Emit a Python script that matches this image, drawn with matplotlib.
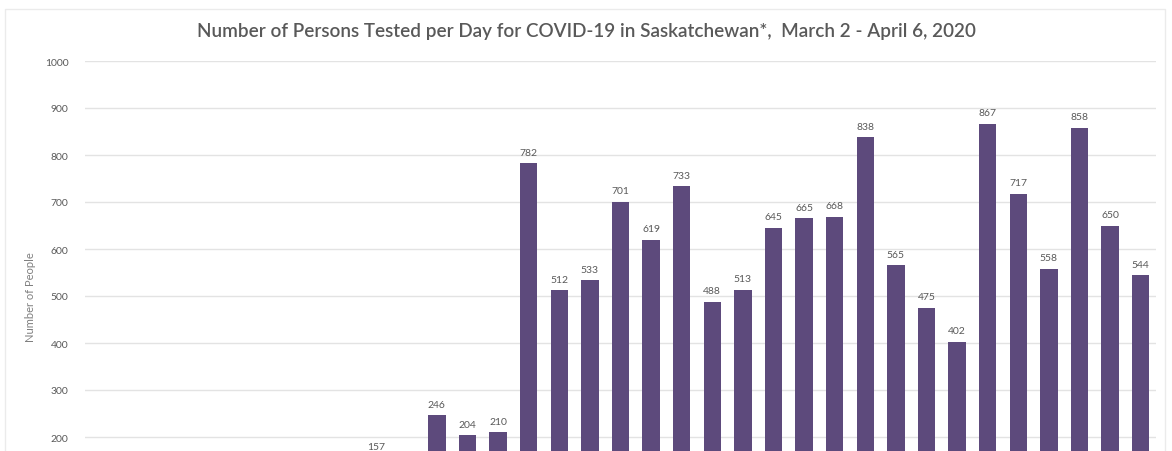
import matplotlib.pyplot as plt
from matplotlib.patches import Rectangle

# daily persons tested, Mar 2 .. Apr 6 (first slots are below the visible crop)
days = list(range(35))
tested = [4, 6, 10, 12, 18, 25, 38, 52, 80, 157, 111,
          246, 204, 210, 782, 512, 533, 701, 619, 733, 488, 513,
          645, 665, 668, 838, 565, 475, 402, 867, 717, 558, 858, 650, 544]
# ticks below 200 fall outside the cropped picture
y_ticks = [200, 300, 400, 500, 600, 700, 800, 900, 1000]

BAR = "#5D4A7C"
GREY = "#7F7F7F"
plt.rcParams["font.family"] = ["Lato", "DejaVu Sans"]

W, H = 1172, 452
fig = plt.figure(figsize=(W / 100, H / 100), dpi=100)
fig.patch.set_facecolor("white")

# axes placed so that 1000 sits at y=62px and 0 at y=532px (below the crop)
left, right, top, bottom = 85, 1156, 62, 532
ax = fig.add_axes([left / W, 1 - bottom / H, (right - left) / W, (bottom - top) / H])

ax.bar(days, tested, width=0.57, color=BAR, zorder=3)
for x, v in zip(days, tested):
    if v < 150:  # label would sit below the cropped edge
        continue
    ax.text(x, v + 14, str(v), ha="center", va="bottom", fontsize=7.5, color="#595959")

ax.set_xlim(-0.5, len(days) - 0.5)
ax.set_ylim(0, 1000)
ax.set_yticks(y_ticks)
ax.set_yticklabels([str(t) for t in y_ticks])
ax.tick_params(axis="y", length=0, pad=12, labelsize=7.5, labelcolor="#595959")
ax.set_xticks([])
ax.grid(axis="y", color="#E3E3E3", linewidth=1, zorder=0)
for s in ax.spines.values():
    s.set_visible(False)
ax.set_ylabel("Number of People", fontsize=8, color=GREY, labelpad=6)

fig.text(0.5, 1 - 32 / H, "Number of Persons Tested per Day for COVID-19 in Saskatchewan*,  March 2 - April 6, 2020",
         ha="center", va="center", fontsize=13.6, color="#595959", fontweight="semibold")

# faint chart frame
fig.add_artist(Rectangle((5 / W, -0.1), (1165 - 5) / W, 1 - 10 / H + 0.1,
                         transform=fig.transFigure, fill=False, edgecolor="#EBEBEB", linewidth=1))

fig.savefig("out.png", dpi=100)
